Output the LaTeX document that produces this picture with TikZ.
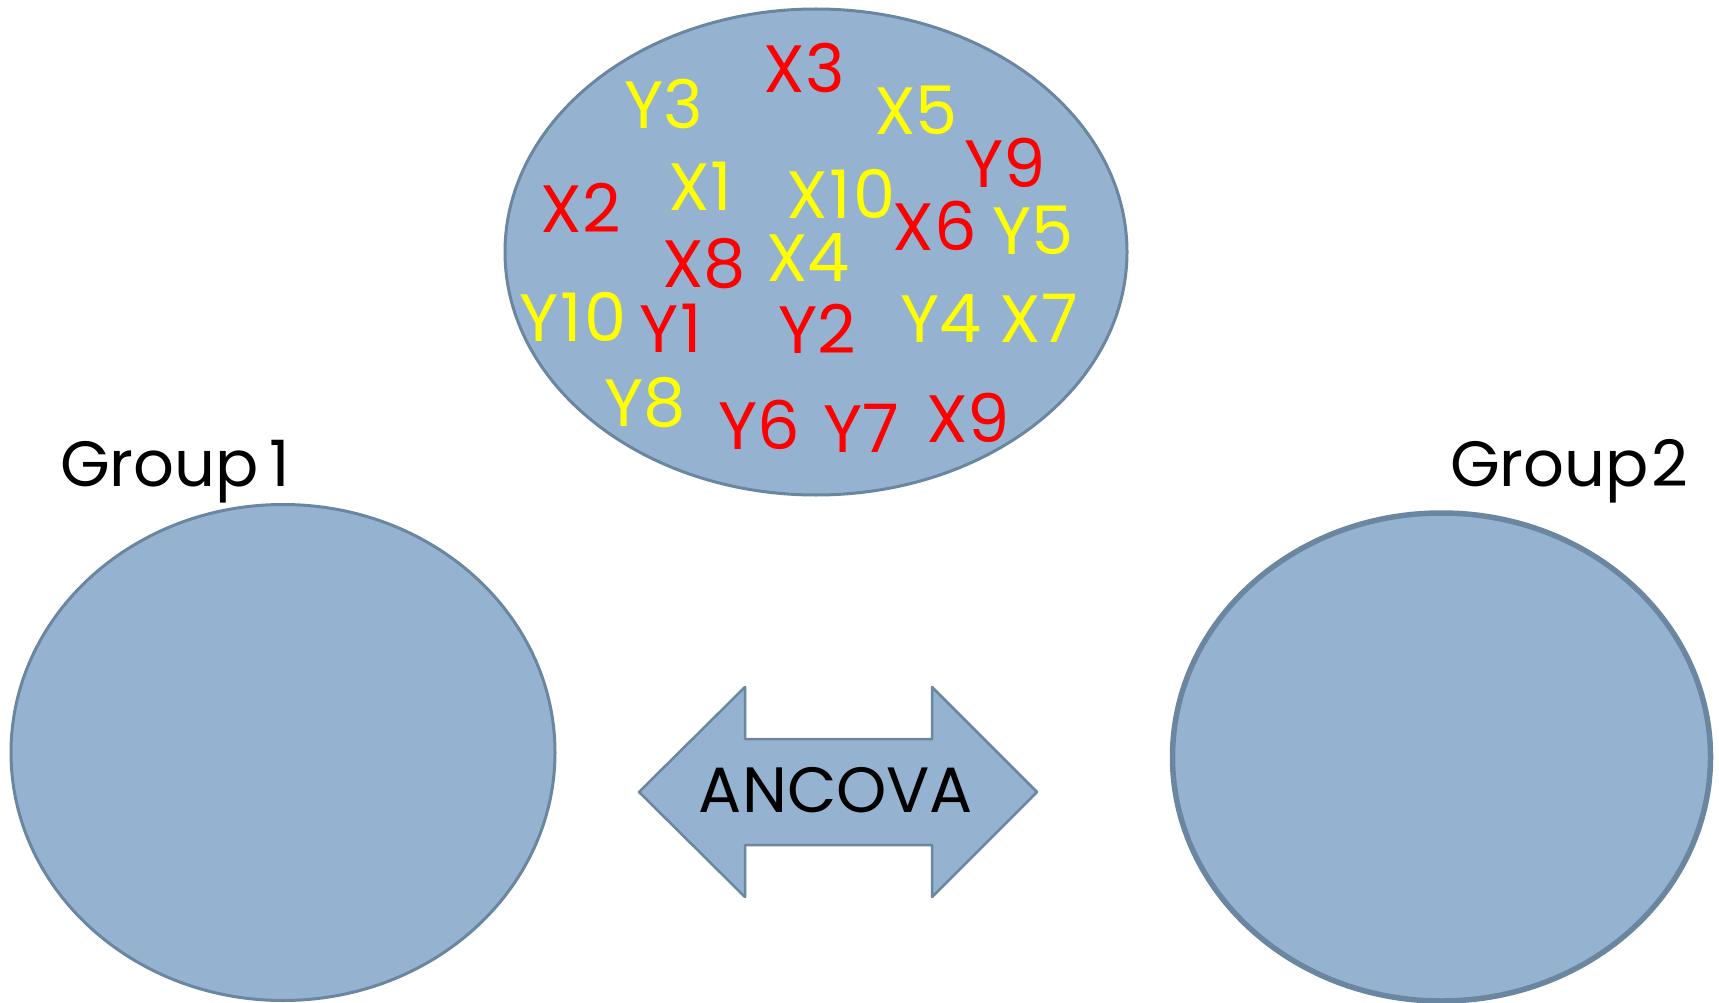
\documentclass[tikz,border=0pt]{standalone}
\usepackage{fontspec}
\setmainfont{Poppins}
\definecolor{blobfill}{HTML}{95B3D0}
\definecolor{blobline}{HTML}{6A86A0}
\definecolor{lblred}{HTML}{FF0000}
\definecolor{lblyel}{HTML}{FFFF00}
\begin{document}
\begin{tikzpicture}[x=1pt,y=-1pt,
  blob/.style={fill=blobfill,draw=blobline,line width=3pt},
  lbl/.style={inner sep=0pt,anchor=center,font=\fontsize{67}{70}\selectfont},
  rl/.style={lbl,text=lblred},
  yl/.style={lbl,text=lblyel},
  grp/.style={inner sep=0pt,font=\fontsize{64}{70}\selectfont}]
\useasboundingbox (0,0) rectangle (1719,1003);
% ellipses
\draw[blob] (816,252) ellipse [x radius=311,y radius=243];
\draw[blob] (283,752.5) ellipse [x radius=272,y radius=248];
\draw[blob,line width=5.5pt] (1441.5,757) ellipse [x radius=269,y radius=244];
% labels in top ellipse
\node[rl] (x3) at (804,68) {X3};
\node[yl] (y3) at (664,104) {Y3};
\node[yl] (x5) at (916,110) {X5};
\node[rl] (y9) at (1005,163) {Y9};
\node[yl] (x1) at (700,186) {X1};
\node[yl] (x10) at (841,194) {X\kern2pt 1\kern2pt 0};
\node[rl] (x2) at (581,208) {X2};
\node[rl] (x6) at (935,226) {X6};
\node[yl] (y5) at (1033,230) {Y5};
\node[rl] (x8) at (704,264) {X8};
\node[yl] (x4) at (808,258) {X4};
\node[yl] (y10) at (573,317) {Y\kern2pt 1\kern2pt 0};
\node[rl] (y1) at (671,328) {Y\kern2pt 1};
\node[rl] (y2) at (817,329) {Y2};
\node[yl] (y4) at (941,319) {Y4};
\node[yl] (x7) at (1039,318) {X7};
\node[yl] (y8) at (645,403) {Y8};
\node[rl] (y6) at (759,425) {Y6};
\node[rl] (y7) at (861,428) {Y7};
\node[rl] (x9) at (968,418) {X9};
% group labels
\node[grp,anchor=base west] (g1) at (60,486) {Group\,1};
\node[grp,anchor=base east] (g2) at (1688,486) {Group\kern2pt 2};
% double arrow
\coordinate (lt) at (639,792);
\coordinate (rt) at (1037,792);
\draw[blob,line width=2.5pt,line join=round]
  (lt) -- (745,687) -- (745,739) -- (932,739) -- (932,687) -- (rt)
  -- (932,897) -- (932,845) -- (745,845) -- (745,897) -- cycle;
\node[inner sep=0pt,font=\fontsize{64}{70}\selectfont] (anc) at (836,790) {ANCOVA};
\end{tikzpicture}
\end{document}
